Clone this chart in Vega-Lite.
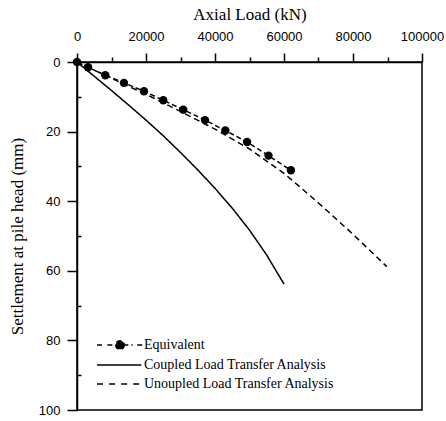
{
  "$schema": "https://vega.github.io/schema/vega-lite/v6.json",
  "width": 345,
  "height": 348,
  "autosize": {"type": "none"},
  "padding": {"left": 77, "top": 62, "right": 24, "bottom": 11},
  "background": "white",
  "data": {
    "values": [
      {"series": "Equivalent", "load": 0, "settlement": 0},
      {"series": "Equivalent", "load": 3200, "settlement": 1.5},
      {"series": "Equivalent", "load": 8200, "settlement": 3.8},
      {"series": "Equivalent", "load": 13600, "settlement": 6.0},
      {"series": "Equivalent", "load": 19400, "settlement": 8.4},
      {"series": "Equivalent", "load": 25000, "settlement": 11.0},
      {"series": "Equivalent", "load": 30800, "settlement": 13.7},
      {"series": "Equivalent", "load": 37100, "settlement": 16.7},
      {"series": "Equivalent", "load": 43000, "settlement": 19.7},
      {"series": "Equivalent", "load": 49300, "settlement": 23.0},
      {"series": "Equivalent", "load": 55500, "settlement": 26.9},
      {"series": "Equivalent", "load": 62000, "settlement": 31.1},
      {"series": "Coupled Load Transfer Analysis", "load": 0, "settlement": 0},
      {"series": "Coupled Load Transfer Analysis", "load": 5000, "settlement": 4.1},
      {"series": "Coupled Load Transfer Analysis", "load": 10000, "settlement": 8.2},
      {"series": "Coupled Load Transfer Analysis", "load": 15000, "settlement": 12.4},
      {"series": "Coupled Load Transfer Analysis", "load": 20000, "settlement": 16.7},
      {"series": "Coupled Load Transfer Analysis", "load": 25000, "settlement": 21.2},
      {"series": "Coupled Load Transfer Analysis", "load": 30000, "settlement": 26.0},
      {"series": "Coupled Load Transfer Analysis", "load": 35000, "settlement": 31.0},
      {"series": "Coupled Load Transfer Analysis", "load": 40000, "settlement": 36.3},
      {"series": "Coupled Load Transfer Analysis", "load": 45000, "settlement": 42.0},
      {"series": "Coupled Load Transfer Analysis", "load": 50000, "settlement": 48.3},
      {"series": "Coupled Load Transfer Analysis", "load": 55000, "settlement": 55.5},
      {"series": "Coupled Load Transfer Analysis", "load": 60000, "settlement": 63.8},
      {"series": "Unoupled Load Transfer Analysis", "load": 0, "settlement": 0},
      {"series": "Unoupled Load Transfer Analysis", "load": 10000, "settlement": 4.7},
      {"series": "Unoupled Load Transfer Analysis", "load": 20000, "settlement": 9.3},
      {"series": "Unoupled Load Transfer Analysis", "load": 30000, "settlement": 14.2},
      {"series": "Unoupled Load Transfer Analysis", "load": 40000, "settlement": 19.3},
      {"series": "Unoupled Load Transfer Analysis", "load": 50000, "settlement": 25.0},
      {"series": "Unoupled Load Transfer Analysis", "load": 60000, "settlement": 32.0},
      {"series": "Unoupled Load Transfer Analysis", "load": 70000, "settlement": 40.5},
      {"series": "Unoupled Load Transfer Analysis", "load": 80000, "settlement": 49.5},
      {"series": "Unoupled Load Transfer Analysis", "load": 89800, "settlement": 58.8}
    ]
  },
  "encoding": {
    "x": {
      "field": "load", "type": "quantitative",
      "scale": {"domain": [0, 100000], "nice": false},
      "axis": {
        "orient": "top",
        "title": "Axial Load (kN)",
        "values": [0, 10000, 20000, 30000, 40000, 50000, 60000, 70000, 80000, 90000, 100000],
        "labelExpr": "datum.value % 20000 === 0 ? format(datum.value, 'd') : ''",
        "tickSize": {"condition": {"test": "datum.value % 20000 === 0", "value": 9}, "value": 5},
        "labelPadding": 10,
        "titlePadding": 7,
        "labelFlush": false
      }
    },
    "y": {
      "field": "settlement", "type": "quantitative",
      "scale": {"domain": [0, 100], "reverse": true, "nice": false},
      "axis": {
        "orient": "left",
        "title": "Settlement at pile head (mm)",
        "values": [0, 10, 20, 30, 40, 50, 60, 70, 80, 90, 100],
        "labelExpr": "datum.value % 20 === 0 ? format(datum.value, 'd') : ''",
        "tickSize": {"condition": {"test": "datum.value % 20 === 0", "value": 10}, "value": -4},
        "labelPadding": 7,
        "titlePadding": 12,
        "labelFlush": false
      }
    }
  },
  "layer": [
    {
      "mark": {"type": "line", "strokeWidth": 1.5},
      "encoding": {
        "color": {
          "field": "series", "type": "nominal",
          "scale": {
            "domain": ["Equivalent", "Coupled Load Transfer Analysis", "Unoupled Load Transfer Analysis"],
            "range": ["black", "black", "black"]
          },
          "legend": {
            "title": null,
            "orient": "none",
            "legendX": 36,
            "legendY": 276,
            "padding": 0,
            "symbolType": "stroke",
            "symbolSize": 132,
            "symbolStrokeWidth": 1.5,
            "labelFont": "Liberation Serif",
            "labelFontSize": 14,
            "labelColor": "black",
            "labelLimit": 0,
            "labelOffset": 17,
            "rowPadding": 5,
            "encode": {
              "symbols": {
                "update": {
                  "shape": {"signal": "datum.value === 'Equivalent' ? 'M-4,0L-3,0M-2.2,0L2.2,0M3,0L4,0M0.75,0A0.75,0.75,0,1,1,-0.75,0A0.75,0.75,0,1,1,0.75,0Z' : datum.value === 'Coupled Load Transfer Analysis' ? 'M-4,0L3.7,0' : 'M-4,0L-2.9,0M-1.9,0L-0.8,0M0.2,0L1.3,0M2.3,0L3.4,0'"},
                  "fill": {"signal": "datum.value === 'Equivalent' ? 'black' : 'transparent'"},
                  "stroke": {"value": "black"}
                }
              }
            }
          }
        },
        "strokeDash": {
          "field": "series", "type": "nominal",
          "scale": {
            "domain": ["Equivalent", "Coupled Load Transfer Analysis", "Unoupled Load Transfer Analysis"],
            "range": [[5, 3], [1, 0], [6, 4]]
          },
          "legend": null
        }
      }
    },
    {
      "transform": [{"filter": "datum.series === 'Equivalent'"}],
      "mark": {"type": "point", "filled": true, "color": "black", "size": 70, "opacity": 1}
    }
  ],
  "config": {
    "view": {"stroke": "black", "strokeWidth": 1.5},
    "axis": {
      "grid": false,
      "domainColor": "black",
      "domainWidth": 1.5,
      "tickColor": "black",
      "tickWidth": 1.5,
      "labelColor": "black",
      "labelFont": "Liberation Sans",
      "labelFontSize": 13,
      "titleColor": "black",
      "titleFont": "Liberation Serif",
      "titleFontSize": 17,
      "titleFontWeight": "normal"
    }
  }
}
